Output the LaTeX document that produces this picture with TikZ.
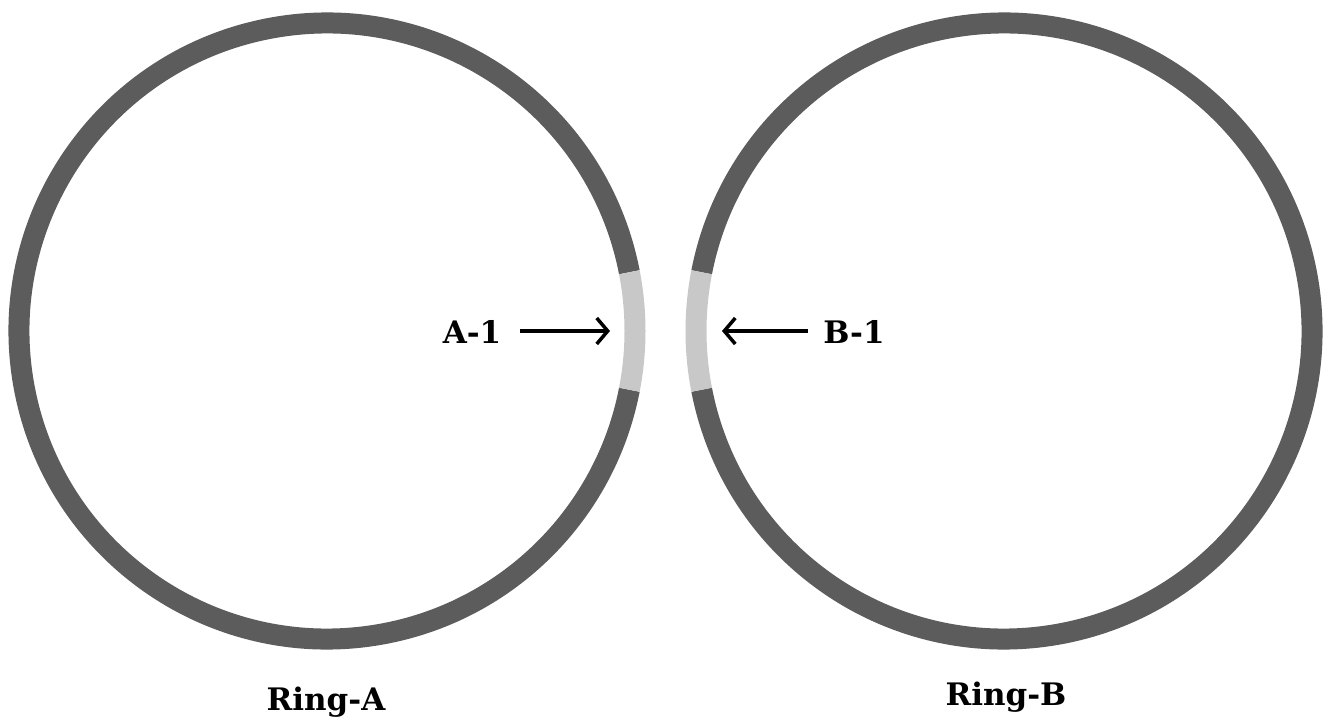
\documentclass[tikz,border=0pt]{standalone}
\usepackage{fontspec}
\setmainfont{DejaVu Serif}
\usetikzlibrary{arrows.meta}
\definecolor{ringdark}{RGB}{92,92,92}
\definecolor{ringlight}{RGB}{200,200,200}
\begin{document}
\begin{tikzpicture}[x=1pt,y=1pt,
  ring/.style={line width=21pt, draw=ringdark},
  seg/.style={line width=21pt, draw=ringlight},
  pointer/.style={line width=3.5pt, -{Straight Barb[length=11pt,width=26pt]}},
  lbl/.style={font=\fontsize{31}{36}\selectfont\bfseries, anchor=base, inner sep=0pt},
]
\useasboundingbox (0,0) rectangle (1333,724);
\fill[white] (0,0) rectangle (1333,724);
% Ring A
\coordinate (ca) at (327,393);
\draw[ring] ([shift={(11:308)}]ca) arc[start angle=11, end angle=349, radius=308];
\draw[seg] ([shift={(-11:308)}]ca) arc[start angle=-11, end angle=11, radius=308];
% Ring B
\coordinate (cb) at (1004,393);
\draw[ring] ([shift={(191:308)}]cb) arc[start angle=191, end angle=529, radius=308];
\draw[seg] ([shift={(169:308)}]cb) arc[start angle=169, end angle=191, radius=308];
% labels
\node[lbl] (a1) at (472,381) {A-1};
\node[lbl] (b1) at (854,381) {B-1};
\coordinate (a1tip) at (610,393);
\coordinate (b1tip) at (722,393);
\draw[pointer] (520,393) -- (a1tip);
\draw[pointer] (808,393) -- (b1tip);
\node[lbl] (ringa) at (326,14) {Ring-A};
\node[lbl] (ringb) at (1006,19) {Ring-B};
\end{tikzpicture}
\end{document}
